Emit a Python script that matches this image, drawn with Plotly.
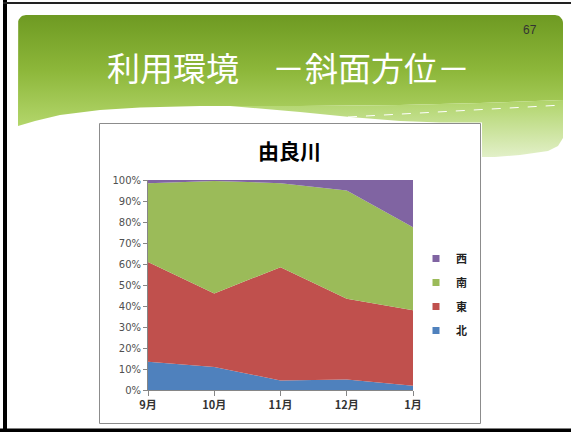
import numpy as np
import plotly.graph_objects as go

# ---- data: slope aspect share per month (percent) ----
months = ["9月", "10月", "11月", "12月", "1月"]
north = [13.5, 11.0, 4.5, 5.0, 2.0]
east = [47.5, 35.0, 54.0, 38.5, 36.0]
south = [37.5, 53.5, 40.0, 51.5, 39.5]
west = [1.5, 0.5, 1.5, 5.0, 22.5]
y_ticks = list(range(0, 101, 10))
y_tick_text = [f"{v}%" for v in y_ticks]

series = [("北", north, "#4F81BD"), ("東", east, "#C0504D"),
          ("南", south, "#9BBB59"), ("西", west, "#8064A2")]

W, H = 571, 432
CJK = "Noto Sans CJK JP"


def px_x(v):
    return v / W


def px_y(v):
    return (H - v) / H


fig = go.Figure()

# stacked 100% areas
for name, vals, col in series:
    fig.add_trace(go.Scatter(
        x=months, y=vals, name=name, mode="none", stackgroup="one",
        groupnorm="percent", fillcolor=col, line=dict(width=0),
        showlegend=False, hoverinfo="x+y+name"))

# legend entries as small squares, top entry first
for name, vals, col in reversed(series):
    fig.add_trace(go.Scatter(
        x=[None], y=[None], name=name, mode="markers", legendgroup=name,
        marker=dict(symbol="square", size=7, color=col)))


# ---- slide decoration (pixel coordinate subplot) ----
def rounded_top(x0, x1, y0, r, n=8):
    pts = []
    a = np.linspace(np.pi, 1.5 * np.pi, n)
    pts += list(zip(x0 + r + r * np.cos(a), y0 + r + r * np.sin(a)))
    a = np.linspace(1.5 * np.pi, 2 * np.pi, n)
    pts += list(zip(x1 - r + r * np.cos(a), y0 + r + r * np.sin(a)))
    return pts

bottom_edge = [(563, 100), (480, 103), (400, 105), (300, 106), (200, 106),
               (140, 107.5), (100, 110), (60, 115), (35, 121), (18, 126)]
header = [(18, 126)] + rounded_top(18, 563, 15, 8) + bottom_edge
hx, hy = zip(*header)
fig.add_trace(go.Scatter(
    x=list(hx), y=list(hy), xaxis="x2", yaxis="y2", mode="lines",
    line=dict(width=0), fill="toself", showlegend=False, hoverinfo="skip",
    fillgradient=dict(type="vertical", start=15, stop=126,
                      colorscale=[[0, "#6E9A22"], [0.5, "#8DB73A"], [1, "#B3D66B"]])))

band = [(230, 106), (300, 106), (400, 105), (480, 103), (563, 100), (563, 138),
        (558, 146), (548, 151), (520, 155), (495, 157), (482, 157), (482, 122.5),
        (440, 122.5), (400, 121), (350, 117), (300, 112), (230, 106)]
bx, by = zip(*band)
fig.add_trace(go.Scatter(
    x=list(bx), y=list(by), xaxis="x2", yaxis="y2", mode="lines",
    line=dict(width=0), fill="toself", showlegend=False, hoverinfo="skip",
    fillgradient=dict(type="vertical", start=100, stop=157,
                      colorscale=[[0, "#B0D46A"], [1, "#E2F0C8"]])))

fig.add_trace(go.Scatter(
    x=[330, 420, 563], y=[118, 113, 105], xaxis="x2", yaxis="y2", mode="lines",
    line=dict(width=1, color="white", dash="dash"), showlegend=False,
    hoverinfo="skip"))

fig.update_layout(
    width=W, height=H,
    margin=dict(l=0, r=0, t=0, b=0, pad=0, autoexpand=False),
    paper_bgcolor="white", plot_bgcolor="rgba(0,0,0,0)",
    xaxis=dict(type="category", range=[0, 4], domain=[px_x(148), px_x(413)],
               showline=True, linecolor="#868686", linewidth=1,
               ticks="outside", ticklen=5, tickcolor="#868686",
               tickfont=dict(family=CJK, size=11, color="#333333", weight="bold"),
               showgrid=False, zeroline=False, fixedrange=True, automargin=False),
    yaxis=dict(range=[0, 100], domain=[px_y(390), px_y(180)],
               tickmode="array", tickvals=y_ticks, ticktext=y_tick_text,
               showline=True, linecolor="#868686", linewidth=1,
               ticks="outside", ticklen=4, tickcolor="#868686",
               tickfont=dict(family="DejaVu Sans", size=10, color="#505050"),
               showgrid=False, zeroline=False, fixedrange=True, automargin=False),
    xaxis2=dict(domain=[0, 1], range=[0, W], visible=False, anchor="y2",
                fixedrange=True, automargin=False),
    yaxis2=dict(domain=[0, 1], range=[H, 0], visible=False, anchor="x2",
                fixedrange=True, automargin=False),
    legend=dict(x=px_x(416), y=px_y(244), xanchor="left", yanchor="top",
                traceorder="grouped", tracegroupgap=5,
                font=dict(family=CJK, size=11, color="#222222", weight="bold"),
                bgcolor="rgba(0,0,0,0)"),
    showlegend=True,
)

# chart frame and slide border
fig.add_shape(type="rect", xref="paper", yref="paper",
              x0=px_x(99.5), x1=px_x(480.5), y0=px_y(423.5), y1=px_y(123.5),
              line=dict(color="#8C8C8C", width=1), layer="above")
fig.add_shape(type="rect", xref="paper", yref="paper",
              x0=px_x(3), x1=px_x(7), y0=0, y1=1,
              line=dict(width=0), fillcolor="black", layer="above")
fig.add_shape(type="rect", xref="paper", yref="paper",
              x0=px_x(3), x1=1, y0=px_y(4), y1=px_y(2),
              line=dict(width=0), fillcolor="#222222", layer="above")
fig.add_shape(type="rect", xref="paper", yref="paper",
              x0=0, x1=1, y0=0, y1=px_y(428.5),
              line=dict(width=0), fillcolor="black", layer="above")

fig.add_annotation(text="利用環境　－斜面方位－", xref="paper", yref="paper",
                   x=px_x(288), y=px_y(67), xanchor="center", yanchor="middle",
                   showarrow=False, font=dict(family=CJK, size=33, color="white"))
fig.add_annotation(text="67", xref="paper", yref="paper",
                   x=px_x(530), y=px_y(30), xanchor="center", yanchor="middle",
                   showarrow=False,
                   font=dict(family="Liberation Sans", size=12, color="#333333"))
fig.add_annotation(text="由良川", xref="paper", yref="paper",
                   x=px_x(289), y=px_y(150), xanchor="center", yanchor="middle",
                   showarrow=False,
                   font=dict(family=CJK, size=21, color="black", weight="bold"))

fig.write_html("out.html", post_script="document.body.style.margin='0';")
